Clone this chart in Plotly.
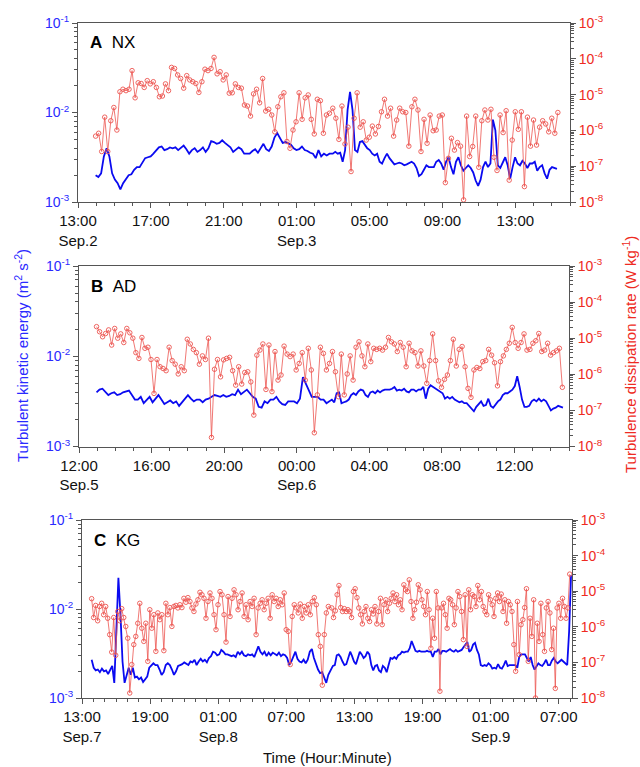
import numpy as np
import pandas as pd
import plotly.graph_objects as go

# ---------------- Data (log10 of values) ----------------
# Panel A  (NX)  Sep.2-3
tke_A_log10_p1 = [
    -2.70, -2.72, -2.68, -2.49, -2.40, -2.49, -2.68, -2.75, -2.79, -2.86,
    -2.79, -2.74, -2.70, -2.69, -2.64, -2.61, -2.61, -2.56, -2.51, -2.50,
    -2.49, -2.46, -2.42, -2.39, -2.38, -2.42, -2.41, -2.39, -2.40, -2.39,
    -2.42, -2.40, -2.37, -2.41, -2.46, -2.42, -2.40, -2.44, -2.42, -2.39,
    -2.44, -2.40, -2.32, -2.33, -2.35, -2.34, -2.31, -2.34, -2.36, -2.39,
    -2.44, -2.41, -2.39, -2.41, -2.46, -2.46, -2.46, -2.43, -2.41, -2.45,
    -2.40, -2.35, -2.41, -2.43, -2.38, -2.28, -2.23, -2.28, -2.34, -2.33,
    -2.35, -2.36, -2.40, -2.42, -2.41, -2.38, -2.42, -2.43, -2.45, -2.46,
    -2.51, -2.42, -2.49, -2.46, -2.48, -2.46]
tke_A_log10_p2 = [
    -2.46, -2.44, -2.46, -2.45, -2.55, -2.42, -1.97, -1.77, -1.97, -2.42,
    -2.44, -2.33, -2.32, -2.36, -2.40, -2.42, -2.46, -2.48, -2.46, -2.55,
    -2.57, -2.51, -2.46, -2.51, -2.55, -2.58, -2.57, -2.56, -2.57, -2.59,
    -2.58, -2.56, -2.55, -2.57, -2.62, -2.71, -2.69, -2.64, -2.59, -2.61,
    -2.61, -2.61, -2.55, -2.53, -2.57, -2.64, -2.55, -2.50, -2.61, -2.69,
    -2.55, -2.50, -2.59, -2.65, -2.62, -2.59, -2.62, -2.67, -2.76, -2.82,
    -2.75, -2.61, -2.55, -2.61, -2.57, -2.08, -2.20, -2.59, -2.62, -2.55,
    -2.50, -2.59, -2.74, -2.61, -2.50, -2.57, -2.59, -2.54, -2.57, -2.62,
    -2.57, -2.57, -2.55, -2.65, -2.61, -2.59, -2.68, -2.74, -2.64, -2.61,
    -2.62, -2.63]
eps_A_log10_p1 = [
    -6.16, -6.08, -6.59, -5.63, -6.59, -5.73, -5.36, -5.99, -4.92, -4.85,
    -4.89, -4.85, -4.33, -5.09, -4.67, -4.69, -4.80, -4.61, -4.70, -4.64,
    -4.80, -5.06, -5.04, -4.70, -4.89, -4.24, -4.27, -4.45, -4.55, -4.82,
    -4.47, -4.59, -4.64, -4.69, -4.94, -4.64, -4.29, -4.33, -4.27, -3.96,
    -4.42, -4.36, -4.59, -4.45, -4.96, -4.95, -4.70, -4.80, -4.82, -5.29,
    -5.32, -5.60, -4.98, -4.85, -5.23, -4.55, -5.46, -5.41, -5.57, -6.04,
    -5.34, -5.06, -4.95, -6.31, -6.50, -5.99, -5.76, -4.95, -5.69, -5.09,
    -5.01, -5.69, -6.10, -5.13, -5.17, -6.08, -5.57, -5.52]
eps_A_log10_p2 = [
    -5.38, -5.66, -6.25, -5.32, -6.38, -5.91, -7.15, -5.66, -4.95, -5.91,
    -5.76, -6.27, -6.19, -5.88, -6.10, -5.89, -5.48, -5.13, -5.60, -5.38,
    -6.16, -5.71, -5.38, -5.48, -5.50, -6.44, -5.34, -5.13, -5.43, -6.59,
    -5.69, -6.36, -5.57, -6.01, -5.99, -5.60, -5.57, -7.46, -6.78, -6.22,
    -6.55, -6.34, -6.44, -7.94, -5.60, -6.73, -6.45, -5.60, -7.03, -5.73,
    -5.43, -5.71, -5.41, -6.75, -7.12, -5.57, -6.06, -5.45, -7.39, -6.27,
    -5.48, -5.97, -5.48, -7.57, -5.63, -6.44, -5.71, -6.41, -5.91, -5.73,
    -5.82, -6.04, -5.66, -6.08, -5.50]
# sampling windows (start, end) of each part
tke_A_spans = [("2020-09-02 13:58", "2020-09-03 02:48"), ("2020-09-03 02:59", "2020-09-03 15:17")]
eps_A_spans = [("2020-09-02 13:58", "2020-09-03 02:48"), ("2020-09-03 02:59", "2020-09-03 15:20")]

# Panel B  (AD)  Sep.5-6
tke_B_log10_p1 = [
    -2.40, -2.37, -2.36, -2.39, -2.43, -2.41, -2.40, -2.43, -2.42, -2.40,
    -2.39, -2.38, -2.43, -2.48, -2.48, -2.45, -2.52, -2.48, -2.45, -2.51,
    -2.47, -2.43, -2.48, -2.53, -2.51, -2.49, -2.52, -2.50, -2.55, -2.51,
    -2.48, -2.43, -2.47, -2.50, -2.48, -2.48, -2.51, -2.48, -2.47, -2.45,
    -2.43, -2.44, -2.45, -2.43, -2.45, -2.44, -2.42, -2.43, -2.37, -2.42,
    -2.39, -2.37, -2.41, -2.45, -2.47, -2.56, -2.57, -2.50, -2.52, -2.48,
    -2.48, -2.45, -2.50, -2.53, -2.54, -2.50, -2.50, -2.50, -2.52, -2.47,
    -2.23, -2.30, -2.37, -2.45, -2.45, -2.45, -2.48, -2.48, -2.52, -2.50]
tke_B_log10_p2 = [
    -2.48, -2.51, -2.41, -2.40, -2.52, -2.51, -2.50, -2.48, -2.43, -2.41,
    -2.43, -2.39, -2.37, -2.38, -2.43, -2.45, -2.40, -2.39, -2.41, -2.38,
    -2.40, -2.38, -2.37, -2.37, -2.37, -2.36, -2.34, -2.38, -2.37, -2.38,
    -2.36, -2.39, -2.40, -2.37, -2.37, -2.39, -2.37, -2.37, -2.34, -2.47,
    -2.36, -2.32, -2.34, -2.36, -2.38, -2.39, -2.41, -2.47, -2.45, -2.47,
    -2.45, -2.48, -2.50, -2.51, -2.50, -2.52, -2.52, -2.55, -2.58, -2.61,
    -2.56, -2.53, -2.50, -2.55, -2.54, -2.47, -2.55, -2.57, -2.53, -2.50,
    -2.48, -2.43, -2.41, -2.41, -2.39, -2.37, -2.33, -2.22, -2.34, -2.48,
    -2.56, -2.56, -2.55, -2.50, -2.48, -2.50, -2.47, -2.50, -2.48, -2.50,
    -2.55, -2.60, -2.58, -2.57, -2.55, -2.56, -2.57]
eps_B_log10_p1 = [
    -4.68, -4.82, -4.96, -4.87, -4.77, -5.19, -4.73, -5.00, -4.88, -5.12,
    -4.73, -4.85, -5.00, -5.40, -5.56, -4.98, -5.28, -5.25, -5.59, -6.53,
    -5.59, -5.79, -5.84, -5.90, -5.25, -5.62, -5.72, -5.99, -5.79, -5.90,
    -5.03, -5.16, -5.31, -5.40, -5.72, -5.49, -5.59, -5.00, -7.75, -5.86,
    -5.59, -6.07, -5.60, -5.56, -5.53, -5.90, -6.30, -5.79, -6.27, -5.95,
    -5.93, -6.21, -7.13, -5.47, -5.33, -5.16, -6.42, -5.19, -6.48, -5.37,
    -6.16, -6.02, -5.22, -5.44, -5.51, -5.44, -5.88, -5.70, -5.40, -6.16,
    -5.28, -5.88, -7.62, -6.57, -5.25, -5.42, -5.88, -5.70]
eps_B_log10_p2 = [
    -5.37, -5.93, -6.62, -5.44, -6.57, -5.99, -5.49, -6.16, -5.25, -5.10,
    -5.49, -5.79, -5.16, -5.65, -5.28, -5.31, -5.28, -5.33, -5.25, -4.98,
    -5.10, -5.16, -5.37, -5.12, -5.25, -5.79, -5.14, -5.35, -5.40, -5.77,
    -5.35, -5.77, -6.25, -5.62, -4.88, -5.62, -6.18, -6.36, -6.14, -6.02,
    -5.62, -5.03, -5.77, -5.31, -5.23, -5.79, -6.39, -6.64, -5.88, -5.81,
    -5.84, -5.65, -5.62, -5.31, -5.47, -5.68, -6.32, -5.65, -5.49, -5.31,
    -5.14, -4.70, -5.12, -5.28, -5.12, -4.88, -5.33, -5.31, -5.14, -5.07,
    -4.87, -5.37, -5.33, -5.14, -5.47, -5.40, -5.35, -5.28, -6.36]
tke_B_spans = [("2020-09-05 12:58", "2020-09-06 01:48"), ("2020-09-06 01:56", "2020-09-06 14:40")]
eps_B_spans = [("2020-09-05 12:58", "2020-09-06 01:48"), ("2020-09-06 01:58", "2020-09-06 14:38")]

# Panel C  (KG)  Sep.7-9
tke_C_log10_p1 = [
    -2.57, -2.66, -2.69, -2.68, -2.71, -2.67, -2.70, -2.69, -2.73, -2.68,
    -2.64, -2.83, -2.25, -1.65, -2.06, -2.59, -2.83, -2.74, -2.66, -2.74,
    -2.66, -2.77, -2.76, -2.79, -2.77, -2.82, -2.79, -2.76, -2.66, -2.63,
    -2.61, -2.63, -2.63, -2.68, -2.74, -2.71, -2.63, -2.61, -2.63, -2.68,
    -2.74, -2.70, -2.64, -2.63, -2.62, -2.60, -2.62, -2.63, -2.59, -2.60,
    -2.57, -2.63, -2.59, -2.56, -2.59, -2.57, -2.60, -2.55, -2.53, -2.48,
    -2.49, -2.52, -2.51, -2.46, -2.48, -2.51, -2.51, -2.52, -2.53, -2.52,
    -2.54, -2.48, -2.51, -2.48, -2.52, -2.53, -2.51, -2.52, -2.51, -2.54,
    -2.48, -2.42, -2.48, -2.51, -2.48, -2.53, -2.49, -2.52, -2.49, -2.51,
    -2.52, -2.49, -2.53, -2.51, -2.52, -2.55, -2.63, -2.59, -2.54, -2.48,
    -2.56, -2.59, -2.60, -2.57, -2.61, -2.57, -2.48, -2.45, -2.55, -2.63,
    -2.68, -2.72, -2.71, -2.77, -2.83, -2.74]
tke_C_log10_p2 = [
    -2.68, -2.64, -2.63, -2.52, -2.51, -2.54, -2.59, -2.63, -2.62, -2.55,
    -2.48, -2.53, -2.59, -2.62, -2.54, -2.48, -2.51, -2.55, -2.53, -2.48,
    -2.51, -2.63, -2.69, -2.64, -2.63, -2.69, -2.71, -2.64, -2.66, -2.71,
    -2.63, -2.55, -2.56, -2.54, -2.56, -2.52, -2.51, -2.48, -2.49, -2.48,
    -2.48, -2.44, -2.36, -2.41, -2.47, -2.48, -2.47, -2.48, -2.48, -2.48,
    -2.47, -2.48, -2.48, -2.54, -2.48, -2.48, -2.45, -2.51, -2.47, -2.47,
    -2.48, -2.46, -2.45, -2.47, -2.48, -2.46, -2.48, -2.47, -2.46, -2.43,
    -2.40, -2.37, -2.48, -2.46, -2.40, -2.38, -2.46, -2.51, -2.63, -2.64,
    -2.63, -2.64, -2.61, -2.63, -2.67, -2.66, -2.67, -2.62, -2.66, -2.67,
    -2.63, -2.58, -2.64, -2.63, -2.63, -2.63, -2.63, -2.66, -2.54, -2.51,
    -2.51, -2.51, -2.55, -2.59, -2.54, -2.63, -2.68, -2.64, -2.61, -2.63,
    -2.64, -2.61, -2.57, -2.63, -2.63, -2.58, -2.55, -2.59, -2.61, -2.59,
    -2.57, -2.59, -2.61, -2.63, -2.25, -1.62]
eps_C_log10_p1 = [
    -5.21, -5.74, -5.40, -5.83, -5.43, -5.34, -5.66, -5.43, -5.76, -6.22,
    -6.71, -5.74, -6.80, -5.57, -5.83, -5.49, -5.74, -5.99, -6.32, -7.86,
    -7.06, -6.50, -6.27, -5.90, -5.34, -6.04, -6.41, -5.90, -6.97, -5.52,
    -6.04, -5.66, -6.69, -5.61, -5.80, -5.66, -6.67, -5.34, -5.66, -5.46,
    -5.99, -5.43, -5.40, -5.47, -5.38, -5.46, -5.20, -5.31, -5.18, -5.29,
    -5.47, -5.57, -5.36, -5.24, -5.03, -5.10, -5.20, -5.76, -5.29, -5.05,
    -5.20, -5.66, -6.08, -5.38, -5.01, -5.10, -5.66, -6.43, -5.15, -5.71,
    -5.20, -4.96, -5.10, -5.52, -5.29, -5.05, -5.71, -5.38, -5.80, -5.29,
    -5.43, -5.20, -6.22, -5.47, -5.34, -5.24, -5.52, -5.34, -5.20, -5.76,
    -5.10, -5.29, -5.20, -5.43, -5.24, -5.38, -5.05, -6.08, -6.13, -7.06,
    -5.71, -5.38, -5.47, -5.61, -5.36, -5.76, -5.43, -5.61, -5.38, -5.66,
    -5.29, -5.18, -5.38, -6.22, -6.55, -7.64, -6.22, -5.61, -5.43]
eps_C_log10_p2 = [
    -5.47, -5.74, -5.55, -5.10, -4.84, -5.46, -5.57, -5.49, -5.57, -5.52,
    -5.57, -5.74, -5.01, -4.93, -5.18, -5.47, -5.66, -5.92, -5.57, -5.43,
    -5.76, -5.85, -5.52, -5.64, -5.43, -5.92, -5.57, -5.20, -5.94, -5.38,
    -5.24, -5.57, -5.34, -5.20, -5.05, -5.29, -5.10, -5.38, -5.24, -5.52,
    -4.82, -4.96, -5.01, -4.68, -5.29, -5.76, -5.52, -5.31, -4.82, -4.96,
    -5.24, -5.43, -5.66, -5.01, -5.52, -6.60, -5.76, -6.32, -5.01, -5.47,
    -7.81, -5.47, -5.34, -5.66, -6.04, -5.20, -5.24, -5.38, -5.94, -5.47,
    -5.01, -5.15, -5.57, -6.36, -5.10, -6.55, -4.96, -5.52, -5.10, -5.15,
    -5.43, -4.84, -5.24, -5.01, -5.43, -5.57, -5.66, -5.10, -5.24, -5.38,
    -5.71, -5.20, -5.05, -5.29, -5.08, -5.57, -5.24, -5.90, -5.29, -5.38,
    -5.57, -6.50, -7.25, -5.29, -6.78, -5.94, -5.80, -5.46, -4.93, -6.97,
    -5.76, -6.27, -5.24, -8.00, -5.90, -6.41, -5.34, -6.22, -6.69, -5.47,
    -5.29, -5.61, -6.64, -6.04, -7.73, -5.47, -5.34, -5.76, -5.20, -5.43,
    -5.76, -5.47, -4.52]
tke_C_spans = [("2020-09-07 13:51", "2020-09-08 10:42"), ("2020-09-08 10:56", "2020-09-09 08:05")]
eps_C_spans = [("2020-09-07 13:51", "2020-09-08 10:42"), ("2020-09-08 11:00", "2020-09-09 07:58")]

# Axis tick labels
xtick_A = ["2020-09-02 13:00", "2020-09-02 17:00", "2020-09-02 21:00", "2020-09-03 01:00",
           "2020-09-03 05:00", "2020-09-03 09:00", "2020-09-03 13:00"]
xlab_A = ["13:00<br>Sep.2", "17:00", "21:00", "01:00<br>Sep.3", "05:00", "09:00", "13:00"]
xtick_B = ["2020-09-05 12:00", "2020-09-05 16:00", "2020-09-05 20:00", "2020-09-06 00:00",
           "2020-09-06 04:00", "2020-09-06 08:00", "2020-09-06 12:00"]
xlab_B = ["12:00<br>Sep.5", "16:00", "20:00", "00:00<br>Sep.6", "04:00", "08:00", "12:00"]
xtick_C = ["2020-09-07 13:00", "2020-09-07 19:00", "2020-09-08 01:00", "2020-09-08 07:00",
           "2020-09-08 13:00", "2020-09-08 19:00", "2020-09-09 01:00", "2020-09-09 07:00"]
xlab_C = ["13:00<br>Sep.7", "19:00", "01:00<br>Sep.8", "07:00", "13:00", "19:00", "01:00<br>Sep.9", "07:00"]
xrange_A = ["2020-09-02 13:00", "2020-09-03 16:00"]
xrange_B = ["2020-09-05 12:00", "2020-09-06 15:00"]
xrange_C = ["2020-09-07 13:00", "2020-09-09 08:10"]

panel_labels = ["A", "B", "C"]
site_names = ["NX", "AD", "KG"]

# ---------------- Figure ----------------
W, H = 640, 767
FONT = "Liberation Sans, Arial, sans-serif"
BLUE_LINE = "#0a0af0"
BLUE_TXT = "#2a2aff"
RED_LINE = "#ec5550"
RED_TXT = "#ee2a22"
AXC = "#555555"


def times(parts_vals, spans):
    out = []
    for vals, (a, b) in zip(parts_vals, spans):
        out.append(pd.date_range(a, b, periods=len(vals)))
    return out[0].append(out[1])


def vals(parts):
    return 10 ** np.array(parts[0] + parts[1])


panels = [
    dict(tke=[tke_A_log10_p1, tke_A_log10_p2], eps=[eps_A_log10_p1, eps_A_log10_p2],
         tsp=tke_A_spans, esp=eps_A_spans, tv=xtick_A, tt=xlab_A, xr=xrange_A,
         xdom=(78, 570), ydom=(23, 202)),
    dict(tke=[tke_B_log10_p1, tke_B_log10_p2], eps=[eps_B_log10_p1, eps_B_log10_p2],
         tsp=tke_B_spans, esp=eps_B_spans, tv=xtick_B, tt=xlab_B, xr=xrange_B,
         xdom=(79, 569), ydom=(266, 446.5)),
    dict(tke=[tke_C_log10_p1, tke_C_log10_p2], eps=[eps_C_log10_p1, eps_C_log10_p2],
         tsp=tke_C_spans, esp=eps_C_spans, tv=xtick_C, tt=xlab_C, xr=xrange_C,
         xdom=(82, 572), ydom=(520, 698)),
]

fig = go.Figure()
layout = dict(width=W, height=H, margin=dict(l=0, r=0, t=0, b=0, pad=0, autoexpand=False),
              paper_bgcolor="white", plot_bgcolor="white", showlegend=False,
              font=dict(family=FONT, size=14, color="black"))
annotations = []

minor_left = [k * 10.0 ** p for p in (-3, -2) for k in range(2, 10)]
minor_right = [k * 10.0 ** p for p in (-8, -7, -6, -5, -4) for k in range(2, 10)]

for i, p in enumerate(panels):
    xa = "x" if i == 0 else f"x{i+1}"
    yl = "y" if i == 0 else f"y{2*i+1}"
    yr = f"y{2*i+2}"
    xkey = "xaxis" if i == 0 else f"xaxis{i+1}"
    ylkey = "yaxis" if i == 0 else f"yaxis{2*i+1}"
    yrkey = f"yaxis{2*i+2}"

    fig.add_trace(go.Scatter(x=times(p["eps"], p["esp"]), y=vals(p["eps"]), xaxis=xa, yaxis=yr,
                             mode="lines+markers",
                             line=dict(color=RED_LINE, width=0.8),
                             marker=dict(symbol="circle-open", size=4.5, color=RED_LINE,
                                         line=dict(width=0.9, color=RED_LINE))))
    fig.add_trace(go.Scatter(x=times(p["tke"], p["tsp"]), y=vals(p["tke"]), xaxis=xa, yaxis=yl,
                             mode="lines", line=dict(color=BLUE_LINE, width=1.8)))

    x0, x1 = p["xdom"]
    yt, yb = p["ydom"]
    ydom = [(H - yb) / H, (H - yt) / H]
    tick0 = p["xr"][0]
    layout[xkey] = dict(type="date", domain=[x0 / W, x1 / W], anchor=yl, range=p["xr"],
                        automargin=False,
                        tickmode="array", tickvals=p["tv"], ticktext=p["tt"],
                        ticks="outside", ticklen=5, tickwidth=1, tickcolor=AXC,
                        showline=True, linecolor=AXC, linewidth=1, mirror=True,
                        showgrid=False, zeroline=False,
                        tickfont=dict(family=FONT, size=15, color="#111111"),
                        minor=dict(ticks="outside", ticklen=3, tickwidth=1, tickcolor=AXC,
                                   dtick=3600000, tick0=tick0, showgrid=False))
    layout[ylkey] = dict(type="log", domain=ydom, anchor=xa, range=[-3, -1],
                         automargin=False,
                         tickmode="array", tickvals=[1e-3, 1e-2, 1e-1],
                         ticktext=["10<sup>-3</sup>", "10<sup>-2</sup>", "10<sup>-1</sup>"],
                         ticks="outside", ticklen=5, tickwidth=1, tickcolor=AXC,
                         showline=True, linecolor=AXC, linewidth=1,
                         showgrid=False, zeroline=False,
                         tickfont=dict(family=FONT, size=14, color=BLUE_TXT),
                         minor=dict(ticks="outside", ticklen=3, tickwidth=1, tickcolor=AXC,
                                    tickvals=minor_left, showgrid=False))
    layout[yrkey] = dict(type="log", overlaying=yl, side="right", anchor=xa, range=[-8, -3],
                         automargin=False,
                         tickmode="array", tickvals=[1e-8, 1e-7, 1e-6, 1e-5, 1e-4, 1e-3],
                         ticktext=["10<sup>-8</sup>", "10<sup>-7</sup>", "10<sup>-6</sup>",
                                   "10<sup>-5</sup>", "10<sup>-4</sup>", "10<sup>-3</sup>"],
                         ticks="outside", ticklen=5, tickwidth=1, tickcolor=AXC,
                         showline=True, linecolor=AXC, linewidth=1,
                         showgrid=False, zeroline=False,
                         tickfont=dict(family=FONT, size=14, color=RED_TXT),
                         minor=dict(ticks="outside", ticklen=3, tickwidth=1, tickcolor=AXC,
                                    tickvals=minor_right, showgrid=False))

    annotations.append(dict(xref="paper", yref="paper", x=(x0 + 10) / W, y=(H - (yt + 20)) / H,
                            xanchor="left", yanchor="middle", showarrow=False,
                            text=f"<b>{panel_labels[i]}</b>\u00a0\u00a0{site_names[i]}",
                            font=dict(family=FONT, size=17, color="black")))

annotations.append(dict(xref="paper", yref="paper", x=21 / W, y=(H - 356) / H,
                        xanchor="center", yanchor="middle", showarrow=False, textangle=-90,
                        text="Turbulent kinetic energy (m<sup>2</sup> s<sup>-2</sup>)",
                        font=dict(family=FONT, size=15, color=BLUE_TXT)))
annotations.append(dict(xref="paper", yref="paper", x=629 / W, y=(H - 355) / H,
                        xanchor="center", yanchor="middle", showarrow=False, textangle=-90,
                        text="Turbulence dissipation rate (W kg<sup>-1</sup>)",
                        font=dict(family=FONT, size=15, color=RED_TXT)))
annotations.append(dict(xref="paper", yref="paper", x=327 / W, y=(H - 757) / H,
                        xanchor="center", yanchor="middle", showarrow=False,
                        text="Time (Hour:Minute)",
                        font=dict(family=FONT, size=15, color="#111111")))

layout["annotations"] = annotations
fig.update_layout(**layout)
fig.write_html("out.html", config={"displayModeBar": False, "staticPlot": True},
               post_script="document.body.style.margin='0px';document.body.style.overflow='hidden';")
